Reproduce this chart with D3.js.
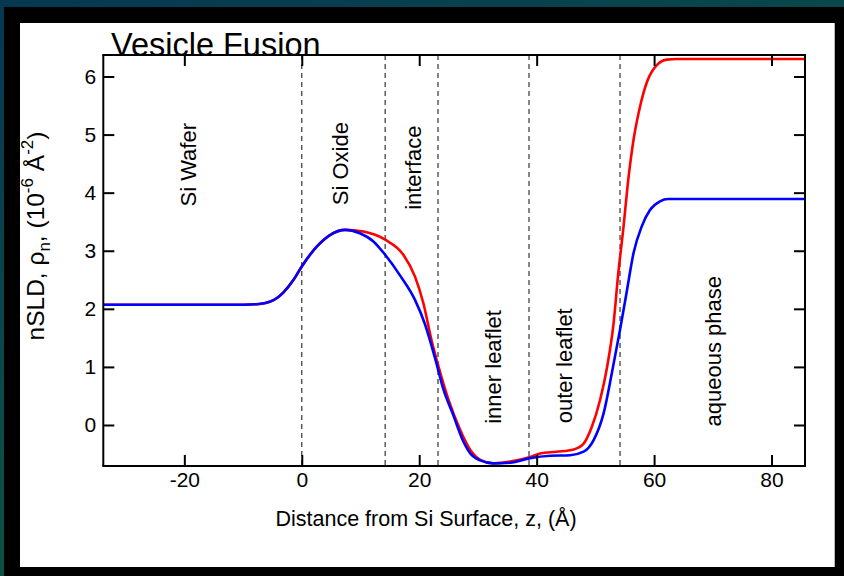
<!DOCTYPE html>
<html><head><meta charset="utf-8">
<script src="https://cdn.jsdelivr.net/npm/d3@7"></script>
<style>html,body{margin:0;padding:0;background:#000;}svg{display:block;}</style>
</head><body>
<svg id="chart" width="844" height="576"></svg>
<script>
// ---- data ----
const xTicks = [-20, 0, 20, 40, 60, 80];
const yTicks = [0, 1, 2, 3, 4, 5, 6];
const dividers = [0, 14.2, 23.2, 38.7, 54.2];
const regionNames = ["Si Wafer", "Si Oxide", "interface", "inner leaflet", "outer leaflet", "aqueous phase"];
const regionZ = [-19.3, 6.6, 19.0, 32.6, 44.7, 70.2];
const regionY = [4.48, 4.5, 4.43, 1.0, 1.02, 1.27];

const zBlue = [-33.8, -12, -7.7, -4.8, -1.4, 0, 2.55, 4.8, 7.4, 9.9, 12.2, 14.2, 16.7, 19.3, 21.0, 22.7, 24.1, 25.8, 27.5, 28.7, 30.4, 32.6, 35.5, 38.9, 42.3, 45.7, 48.0, 49.7, 51.4, 52.8, 54.2, 55.4, 56.5, 57.9, 59.3, 61.0, 62.4, 85.7];
const blue  = [2.07, 2.07, 2.08, 2.15, 2.50, 2.73, 3.07, 3.27, 3.36, 3.30, 3.16, 2.93, 2.58, 2.15, 1.73, 1.15, 0.62, 0.17, -0.28, -0.49, -0.61, -0.66, -0.65, -0.57, -0.53, -0.52, -0.46, -0.26, 0.20, 0.89, 1.64, 2.33, 2.96, 3.42, 3.70, 3.85, 3.89, 3.89];

const zRed = [-33.8, -12, -7.7, -4.8, -1.4, 0, 2.55, 4.8, 7.4, 10.5, 14.2, 17.3, 19.3, 20.7, 22.1, 23.3, 25.0, 27.0, 28.7, 30.4, 32.6, 35.5, 38.9, 40.6, 43.4, 46.3, 48.0, 49.4, 50.8, 52.0, 53.1, 53.9, 54.8, 55.6, 56.5, 57.6, 58.8, 60.5, 62.2, 63.9, 85.7];
const red  = [2.07, 2.07, 2.08, 2.15, 2.50, 2.73, 3.07, 3.27, 3.36, 3.33, 3.19, 2.93, 2.55, 2.10, 1.46, 1.00, 0.43, -0.09, -0.43, -0.60, -0.66, -0.63, -0.55, -0.49, -0.46, -0.42, -0.32, -0.03, 0.43, 1.00, 1.75, 2.61, 3.42, 4.22, 4.91, 5.48, 5.91, 6.20, 6.29, 6.30, 6.30];

// ---- layout ----
const svg = d3.select("#chart");
const defs = svg.append("defs");
const grad = defs.append("linearGradient").attr("id","bg").attr("x1","0").attr("y1","0").attr("x2","0.6").attr("y2","1");
grad.append("stop").attr("offset","0").attr("stop-color","#073752");
grad.append("stop").attr("offset","0.5").attr("stop-color","#0a4a4a");
grad.append("stop").attr("offset","1").attr("stop-color","#0b5a38");
svg.append("rect").attr("width",844).attr("height",576).attr("fill","url(#bg)");
svg.append("rect").attr("x",4).attr("y",7).attr("width",840).attr("height",569).attr("fill","#000");
svg.append("rect").attr("x",20).attr("y",23).attr("width",814).attr("height",544).attr("fill","#fff");
svg.append("line").attr("x1",834.5).attr("x2",834.5).attr("y1",23).attr("y2",567).attr("stroke","#bbb").attr("stroke-width",1);

const L = 103.3, R = 805, T = 55, B = 466;
const x = d3.scaleLinear().domain([-33.8, 85.7]).range([L, R]);
const y = d3.scaleLinear().domain([-0.706, 6.37]).range([B, T]);

const font = "Liberation Sans, Arial, Helvetica, sans-serif";
const g = svg.append("g");

// dividers
g.selectAll("line.div").data(dividers).join("line")
  .attr("x1", d => x(d)).attr("x2", d => x(d)).attr("y1", T).attr("y2", B)
  .attr("stroke", "#333").attr("stroke-width", 1.2).attr("stroke-dasharray", "5,4");

// region labels
g.selectAll("text.reg").data(regionNames).join("text")
  .attr("transform", (d, i) => `translate(${x(regionZ[i])},${y(regionY[i])}) rotate(-90)`)
  .attr("text-anchor", "middle").attr("dominant-baseline", "central")
  .attr("font-family", font).attr("font-size", 22).attr("fill", "#000")
  .text(d => d);

// curves
const line = d3.line().x(d => x(d[0])).y(d => y(d[1])).curve(d3.curveMonotoneX);
g.append("path").datum(zRed.map((z, i) => [z, red[i]])).attr("d", line)
  .attr("fill", "none").attr("stroke", "#ff0000").attr("stroke-width", 2.6);
g.append("path").datum(zBlue.map((z, i) => [z, blue[i]])).attr("d", line)
  .attr("fill", "none").attr("stroke", "#0000ff").attr("stroke-width", 2.6);

// axes
const tl = 11;
const fmt = d => String(d);
const axB = svg.append("g").attr("transform", `translate(0,${B})`).call(d3.axisBottom(x).tickValues(xTicks).tickSizeInner(-tl).tickSizeOuter(0).tickFormat(fmt).tickPadding(6));
const axT = svg.append("g").attr("transform", `translate(0,${T})`).call(d3.axisTop(x).tickValues(xTicks).tickSizeInner(-tl).tickSizeOuter(0).tickFormat(""));
const axL = svg.append("g").attr("transform", `translate(${L},0)`).call(d3.axisLeft(y).tickValues(yTicks).tickSizeInner(-tl).tickSizeOuter(0).tickFormat(fmt).tickPadding(7));
const axR = svg.append("g").attr("transform", `translate(${R},0)`).call(d3.axisRight(y).tickValues(yTicks).tickSizeInner(-tl).tickSizeOuter(0).tickFormat(""));
[axB, axT, axL, axR].forEach(a => {
  a.selectAll(".domain").attr("stroke", "#000").attr("stroke-width", 2);
  a.selectAll(".tick line").attr("stroke", "#000").attr("stroke-width", 2);
  a.selectAll("text").attr("font-family", font).attr("font-size", 21).attr("fill", "#000");
});
axB.selectAll(".domain").attr("d", `M${L - 1},0H${R + 1}`);
axT.selectAll(".domain").attr("d", `M${L - 1},0H${R + 1}`);
axL.selectAll(".domain").attr("d", `M0,${T}V${B}`);
axR.selectAll(".domain").attr("d", `M0,${T}V${B}`);
axL.selectAll(".tick text").attr("x", -7);

// title
svg.append("text").attr("x", 111).attr("y", 56).attr("font-family", font).attr("font-size", 32.5).attr("fill", "#000").text("Vesicle Fusion");

// x-axis title
svg.append("text").attr("x", 426).attr("y", 526).attr("text-anchor", "middle")
  .attr("font-family", font).attr("font-size", 21.5).attr("fill", "#000").text("Distance from Si Surface, z, (Å)");

// y-axis title
const yt = svg.append("text").attr("transform", `translate(44,${236}) rotate(-90)`).attr("text-anchor", "middle")
  .attr("font-family", font).attr("font-size", 24.5).attr("fill", "#000");
yt.append("tspan").text("nSLD, ρ");
yt.append("tspan").attr("font-size", 17).attr("dy", 6).text("n");
yt.append("tspan").attr("dy", -6).text(", (10");
yt.append("tspan").attr("font-size", 17).attr("dy", -11).text("-6");
yt.append("tspan").attr("dy", 11).text(" Å");
yt.append("tspan").attr("font-size", 17).attr("dy", -11).text("-2");
yt.append("tspan").attr("dy", 11).text(")");
</script>
</body></html>
